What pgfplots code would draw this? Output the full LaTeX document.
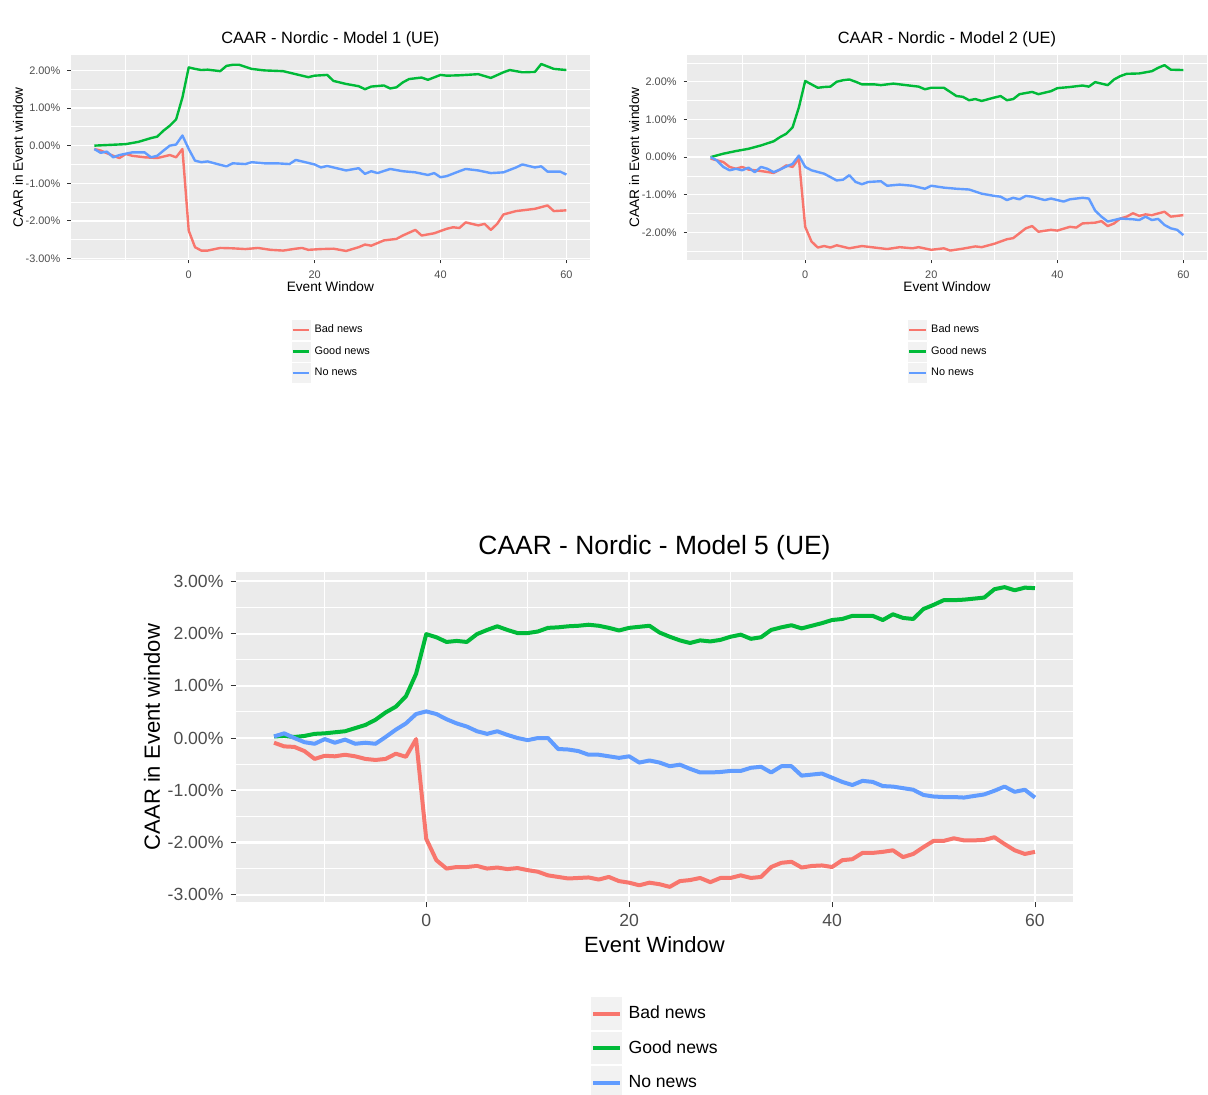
\documentclass[border=0pt]{standalone}
\usepackage{fontspec}
\setmainfont{Liberation Sans}
\usepackage{pgfplots}
\pgfplotsset{compat=1.18}
\definecolor{ggpanel}{HTML}{EBEBEB}
\definecolor{ggkey}{HTML}{F2F2F2}
\definecolor{gg30}{HTML}{4D4D4D}
\definecolor{gg20}{HTML}{333333}
\definecolor{badc}{HTML}{F8766D}
\definecolor{goodc}{HTML}{00BA38}
\definecolor{noc}{HTML}{619CFF}
\pgfplotsset{
  ggbase/.style={
    scale only axis, anchor=south west, clip=false,
    axis background/.style={fill=ggpanel},
    axis line style={draw=none},
    tick pos=left, tick align=outside,
    minor tick length=0pt,
    every tick/.style={gg20},
    grid=both, major grid style={white}, minor grid style={white},
    xmin=-18.75, xmax=63.75,
    xtick={0,20,40,60}, xticklabels={0,20,40,60},
    minor xtick={-10,10,30,50},
    /pgf/number format/assume math mode=true,
    ticklabel style={text=gg30},
    legend cell align=left,
    xlabel style={anchor=center},
    ylabel style={anchor=center},
  },
  ggsmall/.style={
    ggbase, width=259.65pt, height=102.5pt,
    major tick length=1.7pt,
    major grid style={white, line width=0.66pt},
    minor grid style={white, line width=0.33pt},
    ticklabel style={font=\fontsize{5.46}{6}\selectfont},
    xlabel style={font=\fontsize{6.82}{8}\selectfont, at={(axis description cs:0.5,-0.132)}},
    ylabel style={font=\fontsize{6.82}{8}\selectfont, at={(axis description cs:-0.1017,0.5)}},
    every axis plot/.append style={line width=1.2pt, line join=round},
    legend style={at={(axis description cs:0.4237,-0.2903)}, anchor=north west,
      draw=none, fill=none, inner sep=0pt, outer sep=0pt, row sep=0pt, column sep=1.7pt,
      nodes={inner sep=0pt, text=black, font=\fontsize{5.46}{6}\selectfont}},
    legend image code/.code={\fill[ggkey, draw=white, line width=0.3pt] (0.15pt,-5.2pt) rectangle (10.1pt,5.2pt); \draw[##1] (1pt,0pt) -- (9.25pt,0pt);},
  },
  ggbig/.style={
    ggbase, width=418.5pt, height=165pt,
    major tick length=2.75pt,
    major grid style={white, line width=1.07pt},
    minor grid style={white, line width=0.53pt},
    ticklabel style={font=\fontsize{8.8}{10}\selectfont},
    xlabel style={font=\fontsize{11}{13}\selectfont, at={(axis description cs:0.5,-0.130)}},
    ylabel style={font=\fontsize{11}{13}\selectfont, at={(axis description cs:-0.1004,0.5)}},
    every axis plot/.append style={line width=2pt, line join=round},
    legend style={at={(axis description cs:0.423,-0.2863)}, anchor=north west,
      draw=none, fill=none, inner sep=0pt, outer sep=0pt, row sep=0pt, column sep=2.75pt,
      nodes={inner sep=0pt, text=black, font=\fontsize{8.8}{10}\selectfont}},
    legend image code/.code={\fill[ggkey, draw=white, line width=0.5pt] (0.25pt,-8.375pt) rectangle (16.25pt,8.375pt); \draw[##1] (1.6pt,0pt) -- (14.9pt,0pt);},
  },
}
\begin{document}
\begin{tikzpicture}
\useasboundingbox (0,0) rectangle (604pt,547.5pt);
\fill[white] (0,0) rectangle (604pt,547.5pt);
% ---------------- Top left ----------------
\begin{axis}[ggsmall, at={(35.35pt,417.5pt)},
  ymin=-3.04, ymax=2.41,
  ytick={-3,-2,-1,0,1,2},
  yticklabels={-3.00\%,-2.00\%,-1.00\%,0.00\%,1.00\%,2.00\%},
  minor ytick={-2.5,-1.5,-0.5,0.5,1.5},
  xlabel={Event Window}, ylabel={CAAR in Event window}]
\addplot[badc] coordinates {(-15,-0.09)(-14,-0.13)(-12,-0.27)(-11,-0.33)(-10,-0.22)(-9,-0.27)(-7,-0.31)(-5,-0.33)(-4,-0.29)(-3,-0.25)(-2,-0.31)(-1,-0.09)(0,-2.26)(1,-2.70)(2,-2.79)(3,-2.79)(5,-2.72)(7,-2.73)(9,-2.75)(11,-2.72)(13,-2.77)(15,-2.79)(17,-2.74)(18,-2.72)(19,-2.77)(21,-2.75)(23,-2.74)(25,-2.80)(27,-2.70)(28,-2.63)(29,-2.66)(31,-2.52)(33,-2.48)(34,-2.39)(36,-2.24)(37,-2.39)(39,-2.33)(41,-2.21)(42,-2.17)(43,-2.19)(44,-2.04)(46,-2.12)(47,-2.08)(48,-2.24)(49,-2.08)(50,-1.83)(52,-1.74)(53,-1.72)(55,-1.68)(57,-1.59)(58,-1.74)(60,-1.72)};
\addlegendentry{Bad news}
\addplot[goodc] coordinates {(-15,0.00)(-10,0.04)(-8,0.10)(-6,0.20)(-5,0.24)(-4,0.40)(-3,0.53)(-2,0.70)(-1,1.28)(0,2.08)(1,2.04)(2,2.01)(3,2.02)(4,2.00)(5,1.98)(6,2.12)(7,2.15)(8,2.15)(10,2.04)(12,2.00)(15,1.98)(17,1.90)(19,1.82)(20,1.86)(22,1.88)(23,1.72)(25,1.64)(27,1.58)(28,1.50)(29,1.57)(31,1.60)(32,1.52)(33,1.55)(34,1.68)(35,1.77)(37,1.81)(38,1.75)(40,1.88)(41,1.86)(43,1.87)(46,1.90)(48,1.80)(50,1.95)(51,2.01)(53,1.95)(55,1.96)(56,2.17)(58,2.04)(60,2.01)};
\addlegendentry{Good news}
\addplot[noc] coordinates {(-15,-0.09)(-14,-0.19)(-13,-0.16)(-12,-0.31)(-11,-0.25)(-9,-0.18)(-7,-0.18)(-6,-0.31)(-5,-0.27)(-4,-0.13)(-3,0.00)(-2,0.03)(-1,0.27)(0,-0.09)(1,-0.40)(2,-0.44)(3,-0.42)(5,-0.51)(6,-0.55)(7,-0.47)(9,-0.49)(10,-0.44)(12,-0.47)(14,-0.47)(16,-0.49)(17,-0.38)(18,-0.42)(20,-0.50)(21,-0.58)(22,-0.54)(24,-0.62)(25,-0.66)(27,-0.60)(28,-0.75)(29,-0.68)(30,-0.73)(32,-0.62)(33,-0.65)(34,-0.68)(36,-0.71)(38,-0.78)(39,-0.73)(40,-0.84)(41,-0.81)(43,-0.68)(44,-0.62)(46,-0.66)(48,-0.73)(50,-0.71)(52,-0.58)(53,-0.50)(55,-0.58)(56,-0.55)(57,-0.69)(59,-0.69)(60,-0.77)};
\addlegendentry{No news}
\node[font=\fontsize{8.18}{9}\selectfont, anchor=center, inner sep=0pt] at (axis description cs:0.5,1.078) {CAAR - Nordic - Model 1 (UE)};
\end{axis}
% ---------------- Top right ----------------
\begin{axis}[ggsmall, at={(343.5pt,417.5pt)}, width=260pt,
  ymin=-2.73, ymax=2.71,
  ytick={-2,-1,0,1,2},
  yticklabels={-2.00\%,-1.00\%,0.00\%,1.00\%,2.00\%},
  minor ytick={-2.5,-1.5,-0.5,0.5,1.5,2.5},
  xlabel={Event Window}, ylabel={CAAR in Event window}]
\addplot[badc] coordinates {(-15,-0.04)(-13,-0.13)(-12,-0.26)(-11,-0.31)(-10,-0.26)(-9,-0.33)(-7,-0.37)(-5,-0.42)(-4,-0.33)(-3,-0.22)(-2,-0.26)(-1,-0.04)(0,-1.85)(1,-2.24)(2,-2.40)(3,-2.36)(4,-2.40)(5,-2.34)(7,-2.42)(9,-2.36)(11,-2.40)(13,-2.44)(15,-2.39)(17,-2.42)(18,-2.39)(20,-2.46)(22,-2.42)(23,-2.48)(25,-2.43)(27,-2.37)(28,-2.39)(30,-2.30)(32,-2.18)(33,-2.15)(35,-1.89)(36,-1.83)(37,-1.98)(39,-1.93)(40,-1.95)(42,-1.85)(43,-1.87)(44,-1.76)(46,-1.74)(47,-1.70)(48,-1.83)(49,-1.76)(50,-1.63)(51,-1.58)(52,-1.49)(53,-1.56)(54,-1.52)(55,-1.54)(57,-1.45)(58,-1.58)(60,-1.54)};
\addlegendentry{Bad news}
\addplot[goodc] coordinates {(-15,0.00)(-13,0.09)(-11,0.16)(-9,0.22)(-7,0.31)(-5,0.42)(-4,0.53)(-3,0.62)(-2,0.79)(-1,1.32)(0,2.02)(1,1.93)(2,1.84)(3,1.86)(4,1.87)(5,2.00)(6,2.04)(7,2.06)(8,2.00)(9,1.93)(11,1.93)(12,1.91)(14,1.95)(16,1.91)(18,1.87)(19,1.80)(20,1.84)(22,1.84)(24,1.62)(25,1.60)(26,1.51)(27,1.54)(28,1.49)(30,1.58)(31,1.62)(32,1.51)(33,1.54)(34,1.67)(36,1.73)(37,1.67)(39,1.75)(40,1.83)(42,1.86)(44,1.90)(45,1.87)(46,1.99)(48,1.91)(49,2.06)(50,2.15)(51,2.21)(53,2.22)(55,2.28)(56,2.37)(57,2.44)(58,2.32)(60,2.31)};
\addlegendentry{Good news}
\addplot[noc] coordinates {(-15,0.00)(-14,-0.09)(-13,-0.26)(-12,-0.35)(-11,-0.31)(-10,-0.35)(-9,-0.28)(-8,-0.40)(-7,-0.26)(-6,-0.31)(-5,-0.40)(-4,-0.33)(-3,-0.25)(-2,-0.18)(-1,0.04)(0,-0.26)(1,-0.35)(3,-0.44)(5,-0.62)(6,-0.60)(7,-0.48)(8,-0.66)(9,-0.72)(10,-0.66)(12,-0.64)(13,-0.76)(15,-0.73)(17,-0.76)(19,-0.84)(20,-0.76)(22,-0.81)(24,-0.84)(26,-0.86)(28,-0.97)(30,-1.03)(31,-1.05)(32,-1.14)(33,-1.08)(34,-1.12)(35,-1.03)(36,-1.05)(38,-1.14)(39,-1.10)(40,-1.14)(41,-1.18)(42,-1.12)(44,-1.08)(45,-1.10)(46,-1.42)(47,-1.58)(48,-1.71)(49,-1.67)(50,-1.63)(52,-1.65)(53,-1.67)(54,-1.58)(55,-1.67)(56,-1.64)(57,-1.80)(58,-1.89)(59,-1.93)(60,-2.07)};
\addlegendentry{No news}
\node[font=\fontsize{8.18}{9}\selectfont, anchor=center, inner sep=0pt] at (axis description cs:0.5,1.078) {CAAR - Nordic - Model 2 (UE)};
\end{axis}
% ---------------- Bottom ----------------
\begin{axis}[ggbig, at={(118pt,96.5pt)},
  ymin=-3.14, ymax=3.18,
  ytick={-3,-2,-1,0,1,2,3},
  yticklabels={-3.00\%,-2.00\%,-1.00\%,0.00\%,1.00\%,2.00\%,3.00\%},
  minor ytick={-2.5,-1.5,-0.5,0.5,1.5,2.5},
  xlabel={Event Window}, ylabel={CAAR in Event window}]
\addplot[badc] coordinates {(-15,-0.09)(-14,-0.16)(-13,-0.17)(-12,-0.25)(-11,-0.40)(-10,-0.34)(-9,-0.35)(-8,-0.32)(-7,-0.35)(-6,-0.40)(-5,-0.42)(-4,-0.40)(-3,-0.30)(-2,-0.36)(-1,-0.02)(0,-1.93)(1,-2.34)(2,-2.50)(3,-2.47)(4,-2.47)(5,-2.45)(6,-2.50)(7,-2.48)(8,-2.51)(9,-2.49)(10,-2.53)(11,-2.56)(12,-2.63)(13,-2.66)(14,-2.69)(15,-2.68)(16,-2.67)(17,-2.71)(18,-2.66)(19,-2.74)(20,-2.77)(21,-2.82)(22,-2.77)(23,-2.80)(24,-2.85)(25,-2.74)(26,-2.72)(27,-2.68)(28,-2.76)(29,-2.68)(30,-2.68)(31,-2.63)(32,-2.68)(33,-2.66)(34,-2.47)(35,-2.39)(36,-2.37)(37,-2.48)(38,-2.45)(39,-2.44)(40,-2.47)(41,-2.34)(42,-2.32)(43,-2.20)(44,-2.20)(45,-2.18)(46,-2.15)(47,-2.28)(48,-2.22)(49,-2.09)(50,-1.97)(51,-1.97)(52,-1.92)(53,-1.96)(54,-1.96)(55,-1.95)(56,-1.90)(57,-2.03)(58,-2.15)(59,-2.22)(60,-2.18)};
\addlegendentry{Bad news}
\addplot[goodc] coordinates {(-15,0.03)(-14,0.04)(-13,0.02)(-12,0.04)(-11,0.08)(-10,0.09)(-9,0.11)(-8,0.13)(-7,0.19)(-6,0.25)(-5,0.35)(-4,0.49)(-3,0.60)(-2,0.80)(-1,1.23)(0,1.99)(1,1.93)(2,1.84)(3,1.86)(4,1.84)(5,1.99)(6,2.07)(7,2.14)(8,2.07)(9,2.01)(10,2.01)(11,2.04)(12,2.11)(13,2.12)(14,2.14)(15,2.15)(16,2.17)(17,2.15)(18,2.11)(19,2.06)(20,2.11)(21,2.13)(22,2.15)(23,2.02)(24,1.94)(25,1.87)(26,1.82)(27,1.87)(28,1.85)(29,1.88)(30,1.94)(31,1.98)(32,1.90)(33,1.93)(34,2.07)(35,2.12)(36,2.16)(37,2.10)(38,2.15)(39,2.20)(40,2.26)(41,2.28)(42,2.34)(43,2.34)(44,2.34)(45,2.26)(46,2.37)(47,2.30)(48,2.28)(49,2.47)(50,2.55)(51,2.64)(52,2.64)(53,2.65)(54,2.67)(55,2.69)(56,2.85)(57,2.89)(58,2.83)(59,2.88)(60,2.87)};
\addlegendentry{Good news}
\addplot[noc] coordinates {(-15,0.03)(-14,0.09)(-13,0.00)(-12,-0.08)(-11,-0.11)(-10,-0.02)(-9,-0.09)(-8,-0.03)(-7,-0.11)(-6,-0.09)(-5,-0.11)(-4,0.02)(-3,0.16)(-2,0.28)(-1,0.46)(0,0.51)(1,0.46)(2,0.36)(3,0.28)(4,0.22)(5,0.13)(6,0.08)(7,0.13)(8,0.06)(9,0.00)(10,-0.04)(11,0.00)(12,0.00)(13,-0.21)(14,-0.22)(15,-0.25)(16,-0.32)(17,-0.32)(18,-0.35)(19,-0.38)(20,-0.35)(21,-0.47)(22,-0.43)(23,-0.47)(24,-0.54)(25,-0.51)(26,-0.59)(27,-0.66)(28,-0.66)(29,-0.65)(30,-0.63)(31,-0.63)(32,-0.57)(33,-0.55)(34,-0.66)(35,-0.54)(36,-0.54)(37,-0.72)(38,-0.70)(39,-0.68)(40,-0.76)(41,-0.84)(42,-0.90)(43,-0.82)(44,-0.84)(45,-0.92)(46,-0.93)(47,-0.96)(48,-0.99)(49,-1.09)(50,-1.12)(51,-1.13)(52,-1.13)(53,-1.14)(54,-1.11)(55,-1.08)(56,-1.01)(57,-0.93)(58,-1.03)(59,-0.99)(60,-1.14)};
\addlegendentry{No news}
\node[font=\fontsize{13.2}{15}\selectfont, anchor=center, inner sep=0pt] at (axis description cs:0.5,1.073) {CAAR - Nordic - Model 5 (UE)};
\end{axis}
\end{tikzpicture}
\end{document}
